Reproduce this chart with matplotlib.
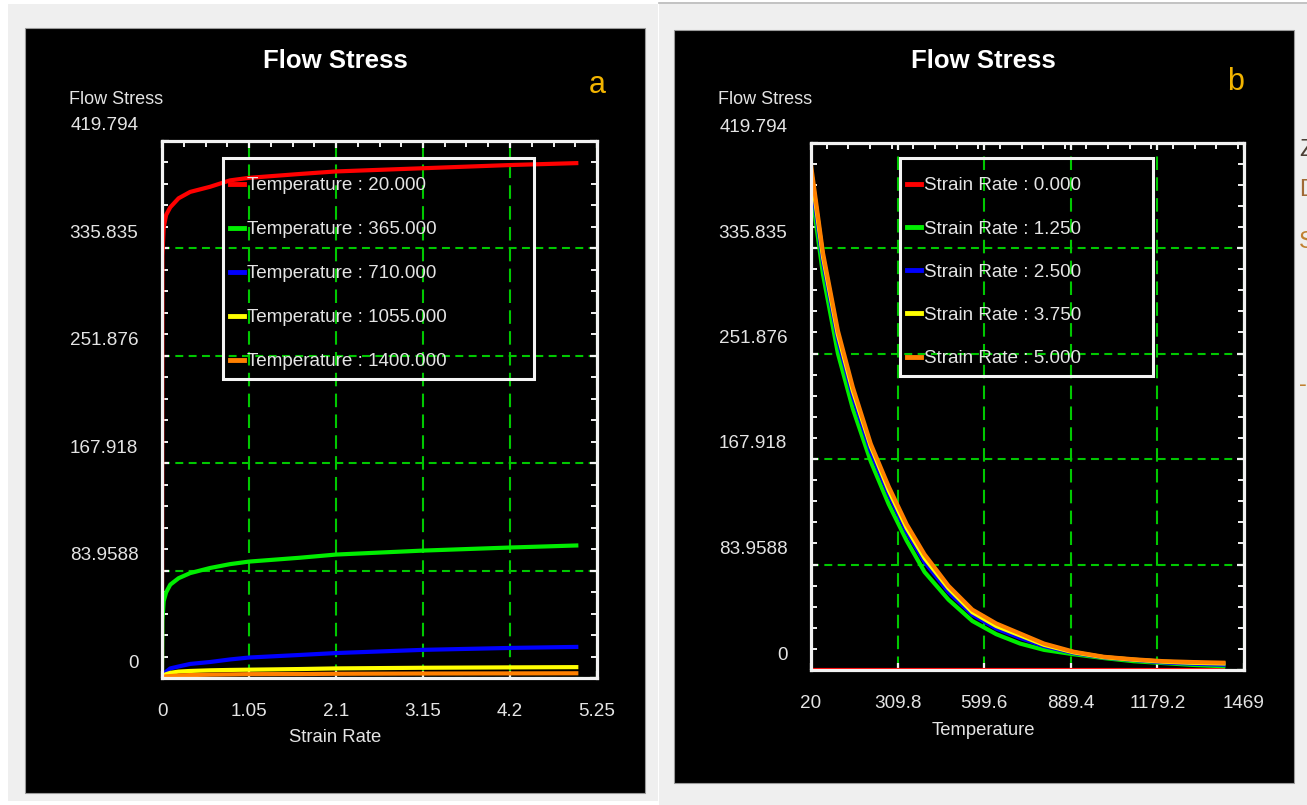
import matplotlib
matplotlib.use("Agg")
import matplotlib.pyplot as plt
from matplotlib.patches import Rectangle
from matplotlib.ticker import MultipleLocator
from matplotlib.transforms import ScaledTranslation

# ---------------- data ----------------
# panel a: flow stress vs strain rate at five temperatures
strain_rate = [0, 0.005, 0.02, 0.05, 0.1, 0.2, 0.34, 0.58, 0.82, 1.05, 1.66, 2.1, 3.15, 4.2, 5.0]
stress_t20 = [0, 330, 352, 362, 368, 375, 380, 384, 389, 391, 394, 396, 398.5, 401, 402.5]
stress_t365 = [0, 45, 60, 67, 73, 78, 82, 86, 89, 91, 94, 96.5, 99.6, 102, 103.6]
stress_t710 = [0, 1, 3, 5, 7.5, 9, 11, 12.5, 14.5, 16, 18, 19.5, 22, 23.5, 24.3]
stress_t1055 = [0, 1, 2, 3, 4, 5, 5.5, 6, 6.3, 6.5, 7, 7.5, 8, 8.3, 8.5]
stress_t1400 = [0, 0.5, 1, 1.3, 1.5, 2, 2.3, 2.6, 2.8, 3, 3.1, 3.3, 3.5, 3.6, 3.7]
temp_labels = ["Temperature : 20.000", "Temperature : 365.000", "Temperature : 710.000",
               "Temperature : 1055.000", "Temperature : 1400.000"]

# panel b: flow stress vs temperature at five strain rates
temperature = [20, 60, 110, 160, 220, 280, 340, 400, 480, 560, 640, 720, 800, 900, 1000, 1100, 1200, 1300, 1400]
stress_sr0 = [0] * len(temperature)
stress_sr125 = [385, 315, 252, 208, 166, 132, 103, 78, 56, 39, 28.5, 21, 16, 12.5, 9.5, 7, 5.5, 4, 3]
stress_sr250 = [392, 325, 263, 218, 174, 140, 110, 86, 62, 44, 33, 25.5, 19, 13.5, 10, 8, 6, 5, 4.2]
stress_sr375 = [398, 329, 267, 222, 178, 143, 113, 89, 65, 46, 35, 27.5, 20, 14, 10.2, 8.2, 6.6, 5.7, 5.2]
stress_sr500 = [402, 332, 270, 225, 180, 146, 116, 92, 67, 48, 37, 29, 21, 14.5, 10.5, 8.5, 7, 6.3, 5.8]
rate_labels = ["Strain Rate : 0.000", "Strain Rate : 1.250", "Strain Rate : 2.500",
               "Strain Rate : 3.750", "Strain Rate : 5.000"]

y_ticks = [0, 83.9588, 167.918, 251.876, 335.835, 419.794]
y_ticklabels = ["0", "83.9588", "167.918", "251.876", "335.835", "419.794"]
xa_ticks = [0, 1.05, 2.1, 3.15, 4.2, 5.25]
xa_ticklabels = ["0", "1.05", "2.1", "3.15", "4.2", "5.25"]
xb_ticks = [20, 309.8, 599.6, 889.4, 1179.2, 1469]
xb_ticklabels = ["20", "309.8", "599.6", "889.4", "1179.2", "1469"]

series_colors = ["#ff0000", "#00ee00", "#0000ff", "#ffff00", "#ff8000"]

# ---------------- style ----------------
plt.rcParams["font.family"] = ["Liberation Sans", "DejaVu Sans"]
TXT = "#e4e4e4"
GRID = "#00c800"
FS = 13.6

W, H = 1307, 805
fig = plt.figure(figsize=(W / 100, H / 100), dpi=100, facecolor="white")

# page background in pixel coordinates
bg = fig.add_axes([0, 0, 1, 1], zorder=0)
bg.set_xlim(0, W)
bg.set_ylim(H, 0)
bg.axis("off")
bg.add_patch(Rectangle((8, 4), 650, 797, facecolor="#efefef", edgecolor="none"))
bg.add_patch(Rectangle((659, 4), 648, 801, facecolor="#efefef", edgecolor="none"))
bg.plot([659, 1307], [3.5, 3.5], color="#b8b8b8", lw=1.2)
bg.add_patch(Rectangle((25, 28), 620, 765, facecolor="black", edgecolor="#9a9a9a", lw=0.8))
bg.add_patch(Rectangle((674, 30), 620, 753, facecolor="black", edgecolor="#9a9a9a", lw=0.8))

# text fragments running off the right edge of the page
for ch, yy, col in [("Z", 150, "#4d4036"), ("D", 190, "#a06a36"), ("S", 242, "#c08030"), ("-", 385, "#c08030")]:
    bg.text(1299, yy, ch, color=col, fontsize=17, ha="left", va="center")


def style_axes(ax, xticks, xlabels, xlim, xminor):
    ax.set_facecolor("black")
    ax.set_xlim(*xlim)
    ax.set_ylim(0, 419.794)
    ax.set_xticks(xticks, xlabels)
    ax.set_yticks(y_ticks, y_ticklabels)
    ax.xaxis.set_minor_locator(MultipleLocator(xminor))
    ax.yaxis.set_minor_locator(MultipleLocator(83.9588 / 5))
    for s in ax.spines.values():
        s.set_color("#f2f2f2")
        s.set_linewidth(2.3)
    ax.tick_params(axis="both", which="both", direction="in", colors="#f2f2f2",
                   labelcolor=TXT, labelsize=FS)
    ax.tick_params(axis="both", which="major", length=5, width=1.6)
    ax.tick_params(axis="x", which="minor", length=4, width=1.4, top=True, bottom=False)
    ax.tick_params(axis="y", which="minor", length=4, width=1.4, left=True, right=True)
    ax.tick_params(axis="x", which="major", top=True, bottom=True, pad=18)
    ax.tick_params(axis="y", which="major", left=True, right=True, pad=17)
    ax.grid(False)
    ax.xaxis.grid(True, which="major", color=GRID, lw=1.5, linestyle=(0, (6.5, 3.5)))
    ax.yaxis.grid(True, which="major", color=GRID, lw=1.5, linestyle=(0, (3.8, 2.6)))
    ax.set_axisbelow(True)
    # value labels sit a little above their grid lines
    shift = ScaledTranslation(0, 0.17, fig.dpi_scale_trans)
    for lab in ax.get_yticklabels():
        lab.set_transform(lab.get_transform() + shift)


def add_legend(ax, handles, frame_box, anchor, spacing):
    # open white frame, wider than the entries it holds
    x0, y0, x1, y1 = frame_box
    ax.add_patch(Rectangle((x0, y0), x1 - x0, y1 - y0, transform=ax.transAxes,
                           facecolor="none", edgecolor="#f4f4f4", lw=2.2, zorder=5))
    leg = ax.legend(handles=handles, loc="upper left", bbox_to_anchor=anchor,
                    frameon=False, fontsize=FS, labelcolor=TXT, handlelength=0.75,
                    handletextpad=0.15, labelspacing=spacing, borderpad=0, borderaxespad=0)
    for line in leg.get_lines():
        line.set_linewidth(3.5)
    return leg


# ---------------- panel a ----------------
ax_a = fig.add_axes([162 / W, 1 - 678 / H, 435 / W, 537 / H], zorder=2)
style_axes(ax_a, xa_ticks, xa_ticklabels, (0, 5.25), 5.25 / 20)
lines_a = []
for ys, c, lab in zip([stress_t20, stress_t365, stress_t710, stress_t1055, stress_t1400],
                      series_colors, temp_labels):
    ln, = ax_a.plot(strain_rate, ys, color=c, lw=3, label=lab)
    lines_a.append(ln)
add_legend(ax_a, lines_a,
           ((223 - 162) / 435, (678 - 379) / 537, (534 - 162) / 435, (678 - 158) / 537),
           ((230 - 162) / 435, (678 - 177) / 537), 1.42)

# ---------------- panel b ----------------
ax_b = fig.add_axes([811 / W, 1 - 670 / H, 433 / W, 527.5 / H], zorder=2)
style_axes(ax_b, xb_ticks, xb_ticklabels, (20, 1469), 1449 / 20)
lines_b = []
for ys, c, lab in zip([stress_sr0, stress_sr125, stress_sr250, stress_sr375, stress_sr500],
                      series_colors, rate_labels):
    ln, = ax_b.plot(temperature, ys, color=c, lw=3, label=lab)
    lines_b.append(ln)
add_legend(ax_b, lines_b,
           ((900 - 811) / 433, (670 - 376) / 527.5, (1153 - 811) / 433, (670 - 158) / 527.5),
           ((907 - 811) / 433, (670 - 177) / 527.5), 1.38)

# ---------------- titles and labels ----------------
for cx, ylx, tag, tagx, tagy, xlab, xly in [
        (335, 69, "a", 597, 85, "Strain Rate", 737),
        (983, 718, "b", 1236, 82, "Temperature", 730)]:
    bg.text(cx, 61, "Flow Stress", color="white", fontsize=18.5, fontweight="bold",
            ha="center", va="center")
    bg.text(ylx, 99, "Flow Stress", color=TXT, fontsize=13, ha="left", va="center")
    bg.text(tagx, tagy, tag, color="#f2b400", fontsize=22, ha="center", va="center")
    bg.text(cx, xly, xlab, color=TXT, fontsize=13.3, ha="center", va="center")

fig.savefig("out.png", dpi=100, facecolor="white")
